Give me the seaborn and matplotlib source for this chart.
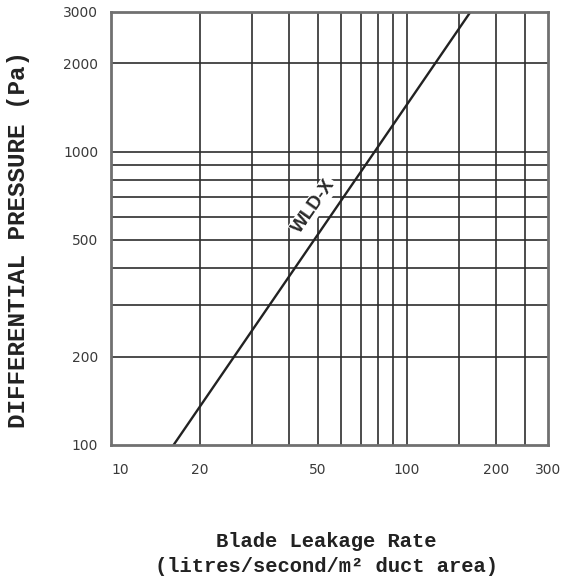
import matplotlib
matplotlib.use("Agg")
import matplotlib.pyplot as plt
import matplotlib.transforms as mtransforms
import seaborn as sns
import pandas as pd

# ---- data ----
leakage_rate = [16.3, 164]          # litres/second/m2
pressure = [100, 3000]              # Pa
series_name = "WLD-X"

x_tick_values = [10, 20, 50, 100, 200, 300]
x_tick_labels = ["10", "20", "50", "100", "200", "300"]
y_tick_values = [100, 200, 500, 1000, 2000, 3000]
y_tick_labels = ["100", "200", "500", "1000", "2000", "3000"]
x_grid = [20, 30, 40, 50, 60, 70, 80, 90, 100, 150, 200, 250]
y_grid = [200, 300, 400, 500, 600, 700, 800, 900, 1000, 2000]

df = pd.DataFrame({"rate": leakage_rate, "pressure": pressure})

sns.set_style("white")
plt.rcParams["font.family"] = ["DejaVu Sans"]

fig = plt.figure(figsize=(5.67, 5.80), dpi=100)
ax = fig.add_axes([110.7 / 567, 1 - 445 / 580, (548.3 - 110.7) / 567, (445 - 11.7) / 580])
ax.set_xscale("log")
ax.set_yscale("log")

# grid lines
for gx in x_grid:
    ax.axvline(gx, color="#2e2e2e", linewidth=1.2, zorder=1)
for gy in y_grid:
    ax.axhline(gy, color="#2e2e2e", linewidth=1.2, zorder=1)

sns.lineplot(data=df, x="rate", y="pressure", ax=ax, color="#222222",
             linewidth=1.7, zorder=4)

ax.set_xlim(10, 300)
ax.set_ylim(100, 3000)

ax.set_xticks(x_tick_values)
ax.set_xticklabels(x_tick_labels)
ax.set_yticks(y_tick_values)
ax.set_yticklabels(y_tick_labels)
ax.minorticks_off()

ax.tick_params(axis="both", which="both", length=0, labelsize=10, labelcolor="#3a3a3a")
ax.tick_params(axis="x", which="major", pad=13)
ax.tick_params(axis="y", which="major", pad=9)
ax.grid(False)

for sp in ax.spines.values():
    sp.set_visible(True)
    sp.set_color("#707070")
    sp.set_linewidth(2.0)
    sp.set_zorder(5)

# shift the "10" label slightly right as in the original
lbl10 = ax.get_xticklabels()[0]
lbl10.set_transform(lbl10.get_transform() + mtransforms.ScaledTranslation(7 / 72, 0, fig.dpi_scale_trans))

# series label along the line
ax.text(48.5, 652, series_name, rotation=55, rotation_mode="anchor",
        ha="center", va="center", fontsize=13.5, fontweight="bold",
        family=["Liberation Sans", "DejaVu Sans"], color="#2a2a2a", zorder=3,
        bbox=dict(facecolor="white", edgecolor="none", pad=1.0))

# axis labels
ax.set_ylabel("DIFFERENTIAL PRESSURE (Pa)", family=["Liberation Mono", "DejaVu Sans Mono"],
              fontweight="bold", fontsize=17.5, color="#222222")
ax.yaxis.label.set_va("center")
ax.yaxis.set_label_coords((18 - 110.7) / 437.6, (445 - 240) / 433.3)

ax.set_xlabel("Blade Leakage Rate\n(litres/second/m\u00b2 duct area)",
              family=["Liberation Mono", "DejaVu Sans Mono"], fontweight="bold",
              fontsize=14.8, color="#222222", linespacing=1.35)
ax.xaxis.label.set_va("center")
ax.xaxis.set_label_coords((326.5 - 110.7) / 437.6, (445 - 554) / 433.3)

fig.savefig("out.png", dpi=100)
